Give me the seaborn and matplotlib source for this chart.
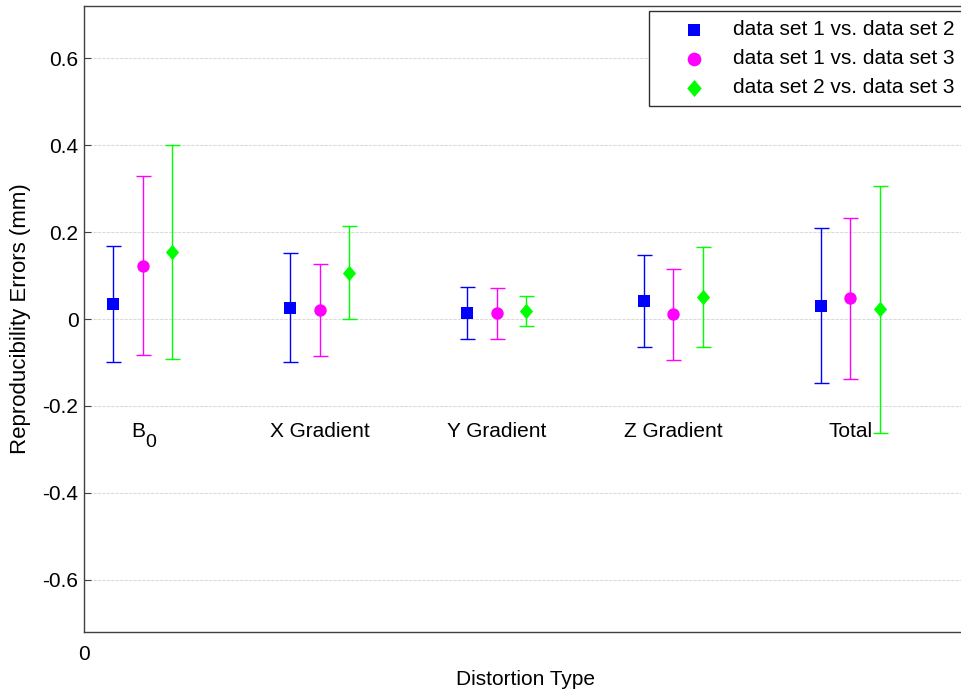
import numpy as np
import pandas as pd
import matplotlib
matplotlib.use("Agg")
import matplotlib.pyplot as plt
import seaborn as sns

# ──────────────────────────────────────────────
# Data
# ──────────────────────────────────────────────
categories = ["B", "X Gradient", "Y Gradient", "Z Gradient", "Total"]
pairs = ["data set 1 vs. data set 2",
         "data set 1 vs. data set 3",
         "data set 2 vs. data set 3"]

mean_12 = [0.034, 0.026, 0.013, 0.041, 0.031]
err_12 = [0.133, 0.126, 0.060, 0.106, 0.178]
mean_13 = [0.123, 0.021, 0.013, 0.011, 0.048]
err_13 = [0.205, 0.105, 0.058, 0.105, 0.185]
mean_23 = [0.154, 0.106, 0.018, 0.051, 0.022]
err_23 = [0.247, 0.107, 0.034, 0.115, 0.285]

y_ticks = [-0.6, -0.4, -0.2, 0, 0.2, 0.4, 0.6]
y_tick_labels = ["-0.6", "-0.4", "-0.2", "0", "0.2", "0.4", "0.6"]

# ──────────────────────────────────────────────
# Styling
# ──────────────────────────────────────────────
COLORS = ["#0000ff", "#ff00ff", "#00ff00"]
diamond = [(0, 1), (0.85, 0), (0, -1), (-0.85, 0), (0, 1)]
MARKERS = ["s", "o", diamond]
SIZES = [70, 80, 125]
FONT = 15

sns.set_theme(style="white")
plt.rcParams["font.family"] = ["Liberation Sans", "DejaVu Sans"]
plt.rcParams["text.color"] = "black"
plt.rcParams["axes.labelcolor"] = "black"

# tidy frame: x position = 1 + 6*group + series offset
rows = []
for s, (means, errs) in enumerate([(mean_12, err_12), (mean_13, err_13), (mean_23, err_23)]):
    for g, cat in enumerate(categories):
        rows.append({"pair": pairs[s], "category": cat,
                     "x": 1 + 6 * g + s, "value": means[g], "err": errs[g]})
df = pd.DataFrame(rows)

fig = plt.figure(figsize=(9.61, 6.92), dpi=100)
ax = fig.add_axes([84 / 961, 60 / 692, 884 / 961, 626 / 692])

for s, pair in enumerate(pairs):
    sub = df[df["pair"] == pair]
    ax.errorbar(sub["x"], sub["value"], yerr=sub["err"], fmt="none",
                ecolor=COLORS[s], elinewidth=1.0, capsize=5.4, capthick=1.0,
                zorder=2)
    sns.scatterplot(data=sub, x="x", y="value", ax=ax, color=COLORS[s],
                    marker=MARKERS[s], s=SIZES[s], linewidth=0, label=pair,
                    zorder=3)

# category names written inside the axes (B gets a subscript 0)
for g, cat in enumerate(categories):
    if g == 0:
        ax.annotate(cat, xy=(2 + 6 * g, -0.272), xytext=(1.8, 0),
                    textcoords="offset points", ha="right", va="baseline",
                    fontsize=FONT, color="black")
        ax.annotate("0", xy=(2 + 6 * g, -0.272), xytext=(1.6, -7.0),
                    textcoords="offset points", ha="left", va="baseline",
                    fontsize=FONT - 1, color="black")
    else:
        ax.text(2 + 6 * g, -0.272, cat, ha="center", va="baseline",
                fontsize=FONT, color="black")

ax.set_xlim(0, 30)
ax.set_ylim(-0.72, 0.72)
ax.set_xticks([0])
ax.set_xticklabels(["0"])
ax.set_yticks(y_ticks)
ax.set_yticklabels(y_tick_labels)
ax.grid(axis="y", color="#dcdcdc", linestyle=(0, (3, 1)), linewidth=0.8)
ax.grid(axis="x", visible=False)
ax.set_axisbelow(True)

ax.tick_params(axis="y", which="both", direction="in", length=5, width=0.8,
               color="#404040", labelcolor="black", labelsize=FONT, pad=4,
               right=True, left=True)
ax.tick_params(axis="x", direction="in", length=5, width=0.8,
               color="#404040", labelcolor="black", labelsize=FONT, pad=9)
for sp in ax.spines.values():
    sp.set_color("#404040")
    sp.set_linewidth(1.0)

ax.set_xlabel("Distortion Type", fontsize=FONT, labelpad=5)
ax.set_ylabel("Reproducibility Errors (mm)", fontsize=16, labelpad=8)

leg = ax.legend(loc="upper right", bbox_to_anchor=(880 / 884, 621.3 / 626),
                borderaxespad=0, fontsize=FONT, frameon=True, fancybox=False,
                borderpad=0.45, handlelength=3.42, handletextpad=0.16,
                labelspacing=0.48, scatterpoints=1, markerscale=1.1)
leg.get_frame().set_edgecolor("#303030")
leg.get_frame().set_linewidth(1.0)
leg.get_frame().set_alpha(1)
for t in leg.get_texts():
    t.set_color("black")

fig.savefig("out.png", dpi=100)
